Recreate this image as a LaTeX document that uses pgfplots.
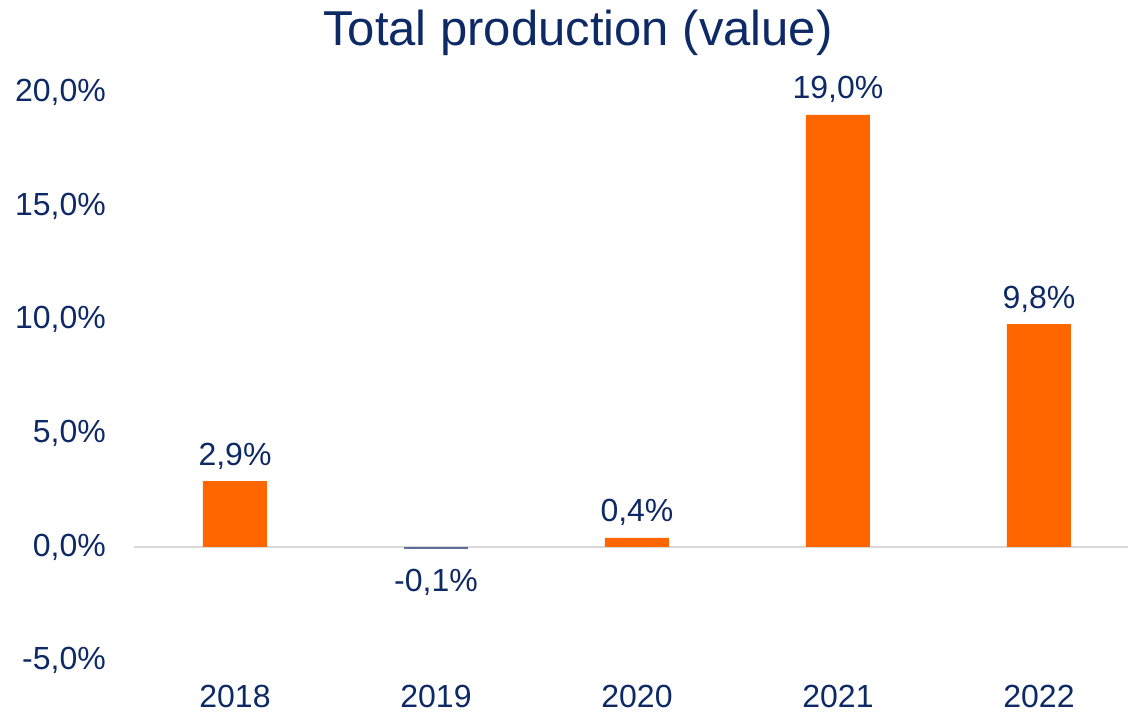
\documentclass[border=0pt]{standalone}
\usepackage{pgfplots}
\pgfplotsset{compat=1.18}
\usepackage{fontspec}
\setmainfont{Liberation Sans}
\definecolor{navy}{HTML}{0E2A66}
\definecolor{barorange}{HTML}{FF6600}
\definecolor{barblue}{HTML}{5B6E98}
\definecolor{zeroline}{HTML}{D9D9D9}
\begin{document}
\begin{tikzpicture}
\useasboundingbox (0pt,0pt) rectangle (1128pt,714pt);
\node[anchor=base, inner sep=0pt, text=navy, font=\fontsize{49}{55}\selectfont] at (578pt,668pt) {Total production (value)};
\begin{axis}[
  at={(134.5pt,53.3pt)}, anchor=south west,
  scale only axis, width=993.5pt, height=568.5pt,
  xmin=-0.5, xmax=4.443, ymin=-5, ymax=20,
  axis line style={draw=none},
  major tick length=0pt, tick style={draw=none},
  xtick={0,1,2,3,4}, xticklabels={2018,2019,2020,2021,2022},
  ytick={-5,0,5,10,15,20},
  /pgf/number format/assume math mode=true,
  yticklabel={\pgfmathprintnumber[fixed,fixed zerofill,precision=1,use comma]{\tick}\%},
  ticklabel style={font=\fontsize{32}{36}\selectfont, text=navy},
  yticklabel style={inner sep=0pt, anchor=east, xshift=-28.5pt},
  xticklabel style={inner sep=0pt, anchor=base, yshift=-47pt},
  extra y ticks={0}, extra y tick labels={},
  extra y tick style={grid=major, grid style={draw=zeroline, line width=2pt}},
  ybar, bar width=64pt, bar shift=0pt,
  nodes near coords={\pgfmathprintnumber[fixed,fixed zerofill,precision=1,use comma,assume math mode=true]{\pgfplotspointmeta}\%},
  nodes near coords style={font=\fontsize{32}{36}\selectfont, text=navy, inner sep=0pt},
]
\addplot[fill=barorange, draw=none, nodes near coords style={anchor=base, yshift=16pt}] coordinates {(0,2.9) (2,0.4) (3,19.0) (4,9.8)};
\addplot[fill=barblue, draw=none, nodes near coords style={anchor=base, yshift=-42.5pt}] coordinates {(1,-0.1)};
\end{axis}
\end{tikzpicture}
\end{document}
